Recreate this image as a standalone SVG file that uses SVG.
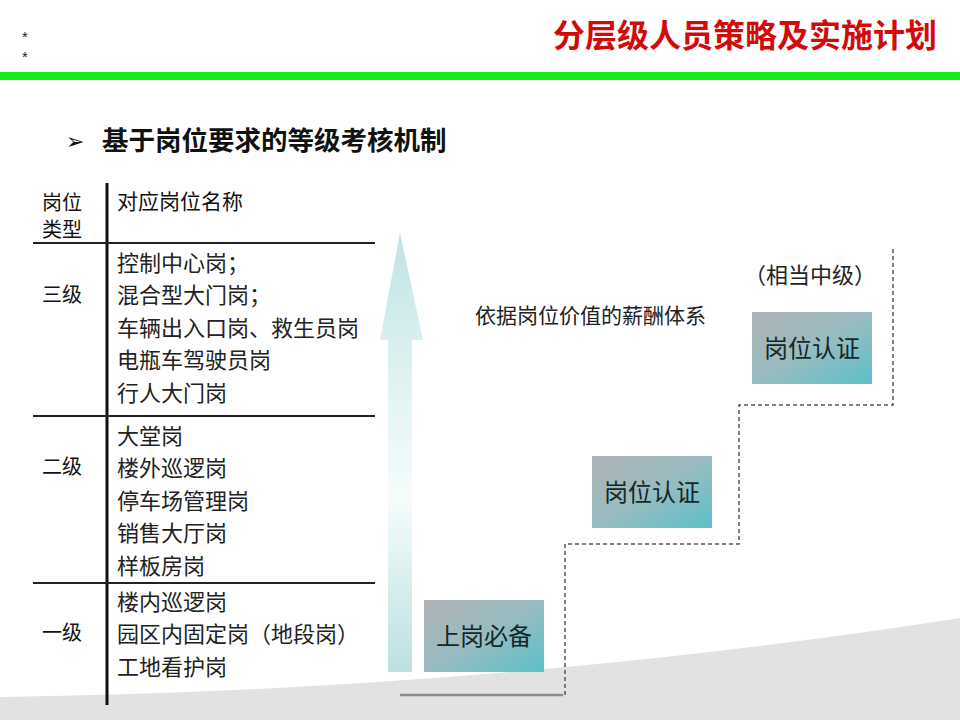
<svg xmlns="http://www.w3.org/2000/svg" width="960" height="720" viewBox="0 0 960 720">
<defs>
<linearGradient id="boxg" x1="0" y1="0" x2="1" y2="1">
<stop offset="0" stop-color="#b0b2b6"/>
<stop offset="0.5" stop-color="#98bcc0"/>
<stop offset="1" stop-color="#5cc0c9"/>
</linearGradient>
<linearGradient id="arrg" gradientUnits="userSpaceOnUse" x1="0" y1="233" x2="0" y2="672">
<stop offset="0" stop-color="#bfe3e3"/>
<stop offset="0.25" stop-color="#d9efef"/>
<stop offset="0.6" stop-color="#f6fcfc"/>
<stop offset="1" stop-color="#bce0e0"/>
</linearGradient>
<style>
.cjk{font-family:"Noto Sans CJK SC","Liberation Sans",sans-serif;}
.name{font-size:22px;fill:#222;}
.lvl{font-size:20px;fill:#111;}
.boxt{font-size:24px;fill:#15272a;text-anchor:middle;}
.rule{stroke:#222;stroke-width:2;}
.dash{fill:none;stroke:#555;stroke-width:1.5;stroke-dasharray:4 3;}
</style>
</defs>
<rect x="0" y="0" width="960" height="720" fill="#ffffff"/>
<path d="M0,697 Q500,690 960,618 L960,720 L0,720 Z" fill="#e2e2e2"/>
<text x="22" y="42" font-family="Liberation Sans,sans-serif" font-size="15" fill="#222">*</text>
<text x="22" y="62" font-family="Liberation Sans,sans-serif" font-size="15" fill="#222">*</text>
<text x="937" y="47" class="cjk" font-size="32" font-weight="bold" fill="#d20a0a" text-anchor="end">分层级人员策略及实施计划</text>
<rect x="0" y="72" width="960" height="8" fill="#18ec18"/>
<text x="66" y="149" font-family="DejaVu Sans,sans-serif" font-size="22" fill="#111">➢</text>
<text x="102" y="150" class="cjk" font-size="26.5" font-weight="bold" fill="#111">基于岗位要求的等级考核机制</text>
<g id="table">
<line x1="107" y1="183" x2="107" y2="705" stroke="#111" stroke-width="3"/>
<line x1="33" y1="243" x2="375" y2="243" class="rule"/>
<line x1="33" y1="416" x2="375" y2="416" class="rule"/>
<line x1="33" y1="583" x2="375" y2="583" class="rule"/>
<text x="42" y="210" class="cjk lvl">岗位</text>
<text x="42" y="237" class="cjk lvl">类型</text>
<text x="117" y="209" class="cjk" font-size="21" fill="#111">对应岗位名称</text>
<text x="42" y="302" class="cjk lvl">三级</text>
<text x="117" y="271" class="cjk name">控制中心岗；</text>
<text x="117" y="303" class="cjk name">混合型大门岗；</text>
<text x="117" y="336" class="cjk name">车辆出入口岗、救生员岗</text>
<text x="117" y="368" class="cjk name">电瓶车驾驶员岗</text>
<text x="117" y="401" class="cjk name">行人大门岗</text>
<text x="42" y="474" class="cjk lvl">二级</text>
<text x="117" y="444" class="cjk name">大堂岗</text>
<text x="117" y="476" class="cjk name">楼外巡逻岗</text>
<text x="117" y="509" class="cjk name">停车场管理岗</text>
<text x="117" y="541" class="cjk name">销售大厅岗</text>
<text x="117" y="574" class="cjk name">样板房岗</text>
<text x="42" y="640" class="cjk lvl">一级</text>
<text x="117" y="610" class="cjk name">楼内巡逻岗</text>
<text x="117" y="642" class="cjk name">园区内固定岗（地段岗）</text>
<text x="117" y="675" class="cjk name">工地看护岗</text>
</g>
<g id="arrow">
<path d="M400,233 L423,340 L412,340 L412,672 L388,672 L388,340 L380,340 Z" fill="url(#arrg)"/>
</g>
<g id="connectors">
<line x1="400" y1="695" x2="563" y2="695" stroke="#8a8a8a" stroke-width="2.5"/>
<path d="M565,695 L565,544 L739,544 L739,405 L893,405 L893,248" class="dash"/>
</g>
<g id="label-salary">
<text x="475" y="323" class="cjk" font-size="21" fill="#222">依据岗位价值的薪酬体系</text>
</g>
<g id="node-base">
<rect x="424" y="600" width="120" height="72" fill="url(#boxg)"/>
<text x="484" y="645" class="cjk boxt">上岗必备</text>
</g>
<g id="node-cert1">
<rect x="592" y="456" width="120" height="72" fill="url(#boxg)"/>
<text x="652" y="501" class="cjk boxt">岗位认证</text>
</g>
<g id="node-cert2">
<rect x="752" y="312" width="120" height="72" fill="url(#boxg)"/>
<text x="812" y="357" class="cjk boxt">岗位认证</text>
<text x="810" y="283" class="cjk" font-size="22" fill="#222" text-anchor="middle">（相当中级）</text>
</g>
</svg>
